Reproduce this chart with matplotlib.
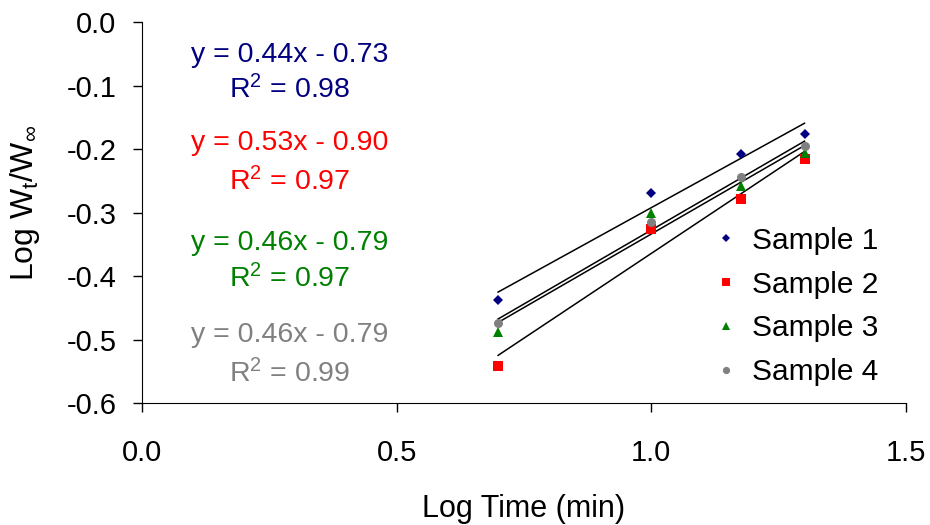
import numpy as np
import matplotlib
matplotlib.use("Agg")
import matplotlib.pyplot as plt
from matplotlib.ticker import FuncFormatter

plt.rcParams['font.family'] = ['Liberation Sans', 'DejaVu Sans']
plt.rcParams['mathtext.default'] = 'regular'

# log time (5, 10, 15, 20 min)
log_time = [0.699, 1.0, 1.176, 1.301]

samples = ["Sample 1", "Sample 2", "Sample 3", "Sample 4"]
sample1 = [-0.438, -0.269, -0.208, -0.176]
sample2 = [-0.542, -0.326, -0.279, -0.216]
sample3 = [-0.488, -0.301, -0.258, -0.206]
sample4 = [-0.474, -0.315, -0.244, -0.195]

equations = ["y = 0.44x - 0.73", "y = 0.53x - 0.90", "y = 0.46x - 0.79", "y = 0.46x - 0.79"]
r2_labels = ["R$^2$ = 0.98", "R$^2$ = 0.97", "R$^2$ = 0.97", "R$^2$ = 0.99"]

colors = ["#000080", "#FF0000", "#008000", "#808080"]
markers = ["D", "s", "^", "o"]
msizes = [5.5, 6.5, 6.5, 6.5]

fig = plt.figure(figsize=(9.3, 5.25), dpi=100)
ax = fig.add_axes([0.153, 0.232, 0.821, 0.726])

x = np.array(log_time)
for name, ys, c, m, ms in zip(samples, [sample1, sample2, sample3, sample4], colors, markers, msizes):
    ys = np.array(ys)
    k, b = np.polyfit(x, ys, 1)
    ax.plot(x, k * x + b, color="black", linewidth=1.1, zorder=2)
    ax.plot(x, ys, linestyle="none", marker=m, color=c, markersize=ms,
            markeredgewidth=0, label=name, zorder=3)

# equation labels (baseline positions)
eq_y = [-0.063, -0.2016, -0.359, -0.504]
r2_y = [-0.1197, -0.2646, -0.4173, -0.567]
for eq, r2, ey, ry, c in zip(equations, r2_labels, eq_y, r2_y, colors):
    ax.text(0.29, ey, eq, color=c, fontsize=20.5, ha="center", va="baseline")
    ax.text(0.29, ry, r2, color=c, fontsize=20.5, ha="center", va="baseline")

ax.set_xlim(0, 1.5)
ax.set_ylim(-0.6, 0.0)
ax.set_xticks([0.0, 0.5, 1.0, 1.5])
ax.set_yticks([-0.6, -0.5, -0.4, -0.3, -0.2, -0.1, 0.0])
fmt = FuncFormatter(lambda v, p: f"{v:.1f}".replace("-0.0", "0.0"))
ax.xaxis.set_major_formatter(fmt)
ax.yaxis.set_major_formatter(fmt)
ax.tick_params(axis='both', labelsize=21, length=6.5, width=1, direction='out')
ax.tick_params(axis='x', pad=19)
ax.tick_params(axis='y', pad=12)
ax.spines['top'].set_visible(False)
ax.spines['right'].set_visible(False)

ax.set_xlabel("Log Time (min)", fontsize=22)
ax.xaxis.set_label_coords(0.5, -0.237)
ax.set_ylabel("Log W$_t$/W$_\\infty$", fontsize=23)
ax.yaxis.set_label_coords(-0.131, 0.525)

fig.legend(loc="upper left", bbox_to_anchor=(0.768, 0.568), frameon=False,
           fontsize=21.5, handletextpad=0.47, labelspacing=0.53, markerscale=0.8,
           handlelength=0.8, borderpad=0, borderaxespad=0)

fig.savefig("out.png", dpi=100)
